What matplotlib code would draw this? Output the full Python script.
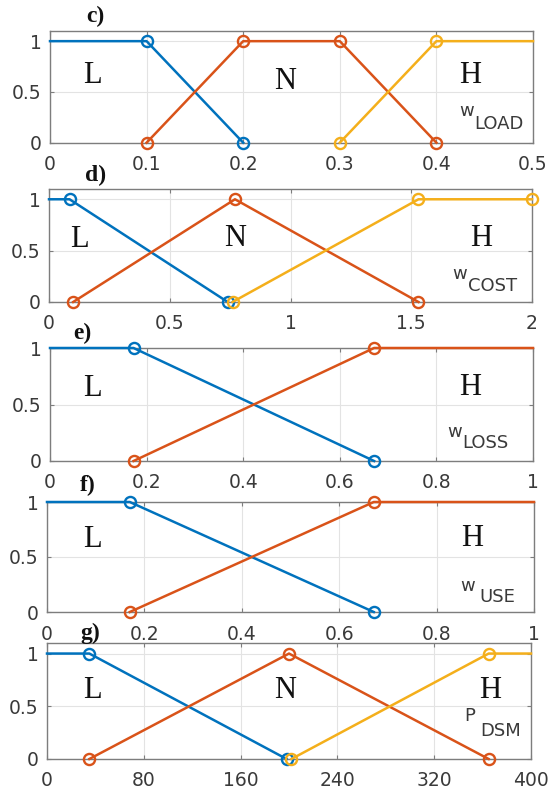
import matplotlib
matplotlib.use("Agg")
import matplotlib.pyplot as plt

plt.rcParams["font.family"] = ["DejaVu Sans"]

# ---- membership function breakpoints (x, y) per input ----
c_low_x, c_low_y = [0, 0.1, 0.2], [1, 1, 0]
c_norm_x, c_norm_y = [0.1, 0.2, 0.3, 0.4], [0, 1, 1, 0]
c_high_x, c_high_y = [0.3, 0.4, 0.5], [0, 1, 1]

d_low_x, d_low_y = [0, 0.085, 0.74], [1, 1, 0]
d_norm_x, d_norm_y = [0.1, 0.77, 1.53], [0, 1, 0]
d_high_x, d_high_y = [0.76, 1.53, 2.0], [0, 1, 1]

e_low_x, e_low_y = [0, 0.173, 0.671], [1, 1, 0]
e_high_x, e_high_y = [0.173, 0.671, 1.0], [0, 1, 1]

f_low_x, f_low_y = [0, 0.17, 0.671], [1, 1, 0]
f_high_x, f_high_y = [0.17, 0.671, 1.0], [0, 1, 1]

g_low_x, g_low_y = [0, 35, 198], [1, 1, 0]
g_norm_x, g_norm_y = [35, 200, 365], [0, 1, 0]
g_high_x, g_high_y = [202, 365, 400], [0, 1, 1]

# which breakpoints carry a circle marker
c_marks = ([1, 2], [0, 1, 2, 3], [0, 1])
d_marks = ([1, 2], [0, 1, 2], [0, 1, 2])
e_marks = ([1, 2], [0, 1])
f_marks = ([1, 2], [0, 1])
g_marks = ([1, 2], [0, 1, 2], [0, 1])

# tick values / labels
c_ticks = [0, 0.1, 0.2, 0.3, 0.4, 0.5]
c_ticklabels = ["0", "0.1", "0.2", "0.3", "0.4", "0.5"]
d_ticks = [0, 0.5, 1, 1.5, 2]
d_ticklabels = ["0", "0.5", "1", "1.5", "2"]
ef_ticks = [0, 0.2, 0.4, 0.6, 0.8, 1]
ef_ticklabels = ["0", "0.2", "0.4", "0.6", "0.8", "1"]
g_ticks = [0, 80, 160, 240, 320, 400]
g_ticklabels = ["0", "80", "160", "240", "320", "400"]
y_ticks = [0, 0.5, 1]
y_ticklabels = ["0", "0.5", "1"]

COLORS = ["#0072BD", "#D95319", "#F4AF1B"]
BOX = "#7d7d7d"
GRID = "#e3e3e3"
TXT = "#3a3a3a"

W, H = 551, 792
fig = plt.figure(figsize=(W / 100, H / 100), dpi=100)
fig.patch.set_facecolor("white")


def px_axes(left, right, top, bottom):
    return fig.add_axes([left / W, 1 - bottom / H, (right - left) / W, (bottom - top) / H])


def panel(box, series, marks, xlim, ylim, ticks, ticklabels, letters, var, sub,
          var_pos, sub_pos, title, title_pos):
    ax = px_axes(*box)
    for (xs, ys), mk, col in zip(series, marks, COLORS):
        ax.plot(xs, ys, color=col, lw=1.8, marker="o", markevery=mk,
                markersize=8, markerfacecolor="none", markeredgewidth=1.7,
                clip_on=False, zorder=3)
    ax.set_xlim(*xlim)
    ax.set_ylim(*ylim)
    ax.set_xticks(ticks)
    ax.set_xticklabels(ticklabels)
    ax.set_yticks(y_ticks)
    ax.set_yticklabels(y_ticklabels)
    ax.grid(True, color=GRID, lw=0.8, zorder=0)
    ax.set_axisbelow(True)
    for s in ax.spines.values():
        s.set_color(BOX)
        s.set_linewidth(1.0)
    ax.tick_params(direction="in", length=3, width=0.8, color=BOX,
                   top=True, right=True, labelsize=13.5, labelcolor=TXT)
    ax.tick_params(axis="x", pad=9)
    ax.tick_params(axis="y", pad=6)
    for txt, x, y in letters:
        ax.text(x, y, txt, fontsize=22, family="Liberation Serif", color="#111111",
                ha="center", va="center")
    ax.text(var_pos[0], var_pos[1], var, transform=ax.transAxes, fontsize=13,
            color=TXT, ha="center", va="center")
    ax.text(sub_pos[0], sub_pos[1], sub, transform=ax.transAxes, fontsize=13,
            color=TXT, ha="left", va="center")
    fig.text(title_pos[0] / W, 1 - title_pos[1] / H, title, fontsize=17,
             family="Liberation Serif", weight="bold", color="#111111",
             ha="center", va="center")
    return ax


panel((50, 533, 31, 142.7),
      [(c_low_x, c_low_y), (c_norm_x, c_norm_y), (c_high_x, c_high_y)], c_marks,
      (0, 0.5), (0, 1.1), c_ticks, c_ticklabels,
      [("L", 0.044, 0.66), ("N", 0.243, 0.60), ("H", 0.435, 0.66)],
      "w", "LOAD", (0.862, 0.28), (0.878, 0.17), "c)", (95, 16))

panel((49, 532, 189, 302),
      [(d_low_x, d_low_y), (d_norm_x, d_norm_y), (d_high_x, d_high_y)], d_marks,
      (0, 2), (0, 1.1), d_ticks, d_ticklabels,
      [("L", 0.128, 0.61), ("N", 0.77, 0.62), ("H", 1.79, 0.62)],
      "w", "COST", (0.85, 0.25), (0.868, 0.14), "d)", (96, 175))

panel((50, 533, 348, 461),
      [(e_low_x, e_low_y), (e_high_x, e_high_y)], e_marks,
      (0, 1), (0, 1), ef_ticks, ef_ticklabels,
      [("L", 0.087, 0.64), ("H", 0.869, 0.65)],
      "w", "LOSS", (0.838, 0.258), (0.853, 0.158), "e)", (82, 333))

panel((47, 534, 502, 612),
      [(f_low_x, f_low_y), (f_high_x, f_high_y)], f_marks,
      (0, 1), (0, 1), ef_ticks, ef_ticklabels,
      [("L", 0.093, 0.655), ("H", 0.873, 0.665)],
      "w", "USE", (0.864, 0.24), (0.887, 0.135), "f)", (88, 485))

panel((47, 531, 643, 759),
      [(g_low_x, g_low_y), (g_norm_x, g_norm_y), (g_high_x, g_high_y)], g_marks,
      (0, 400), (0, 1.1), g_ticks, g_ticklabels,
      [("L", 37.5, 0.65), ("N", 196.7, 0.65), ("H", 366.6, 0.65)],
      "P", "DSM", (0.873, 0.373), (0.895, 0.244), "g)", (90, 633))

fig.savefig("out.png", dpi=100, facecolor="white")
